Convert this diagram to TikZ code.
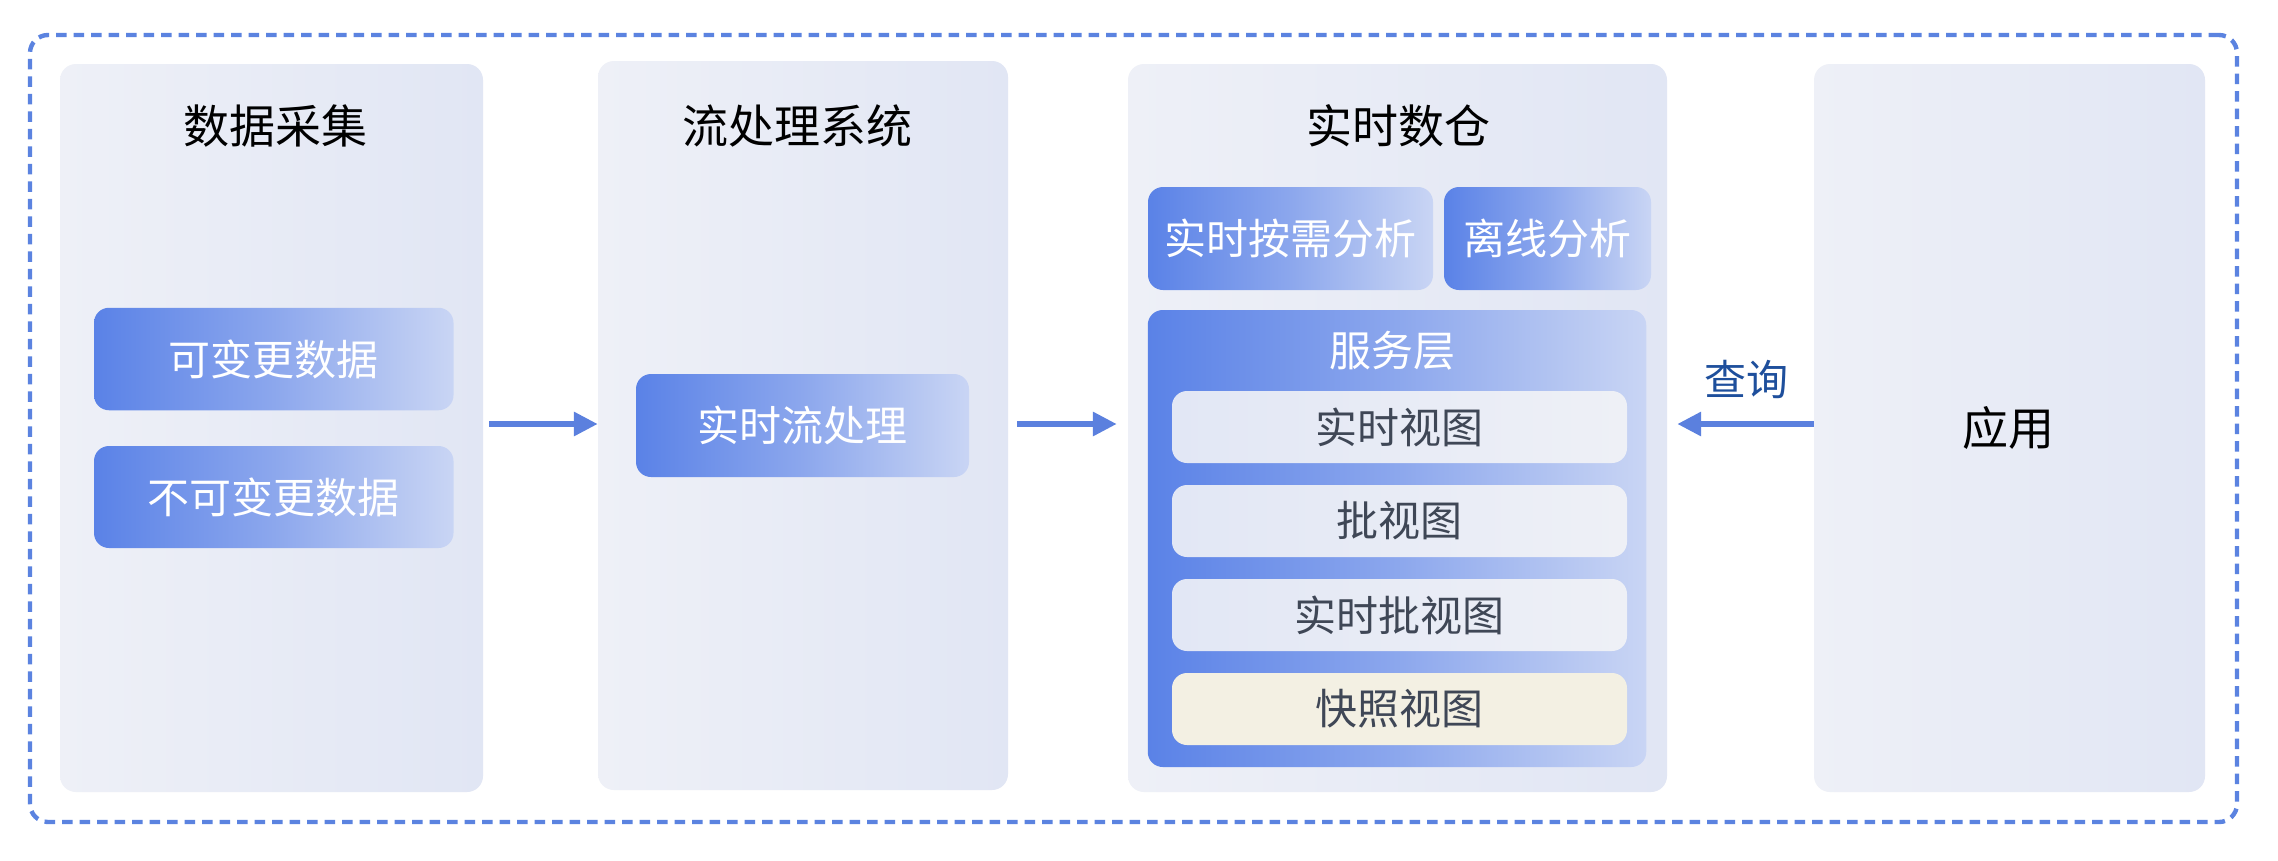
\documentclass[tikz,border=0pt]{standalone}
\usepackage{fontspec}
\setmainfont{Noto Sans CJK SC}
\usetikzlibrary{arrows.meta}
\definecolor{dashc}{HTML}{5B83E0}
\definecolor{arrc}{HTML}{5B80DE}
\definecolor{colL}{HTML}{EEF0F7}
\definecolor{colR}{HTML}{E1E6F4}
\definecolor{blueL}{HTML}{5A82E7}
\definecolor{blueM}{HTML}{8CA7ED}
\definecolor{blueR}{HTML}{C9D5F4}
\definecolor{viewL}{HTML}{E2E7F5}
\definecolor{viewR}{HTML}{EEF0F6}
\definecolor{viewT}{HTML}{3F4756}
\definecolor{snapC}{HTML}{F3F0E3}
\definecolor{qc}{HTML}{1E4F9C}
\tikzset{
  col/.style={rectangle, rounded corners=16pt, inner sep=0pt, left color=colL, right color=colR},
  bluebox/.style={rectangle, rounded corners=15pt, inner sep=0pt, left color=blueL, right color=blueR, middle color=blueM, text=white, font=\fontsize{42pt}{48pt}\selectfont},
  viewbox/.style={rectangle, rounded corners=15pt, inner sep=0pt, left color=viewL, right color=viewR, text=viewT, font=\fontsize{42pt}{48pt}\selectfont, minimum width=455pt, minimum height=72pt},
  ttl/.style={font=\fontsize{46pt}{52pt}\selectfont, text=black, inner sep=0pt},
  arr/.style={draw=arrc, line width=6.5pt, -{Triangle[length=24pt,width=23pt]}},
  outer/.style={rectangle, draw=dashc, line width=4.4pt, dash pattern=on 10.5pt off 7pt, rounded corners=18pt, inner sep=0pt}
}
\begin{document}
\begin{tikzpicture}[x=1pt,y=-1pt]
\useasboundingbox (0,0) rectangle (2278,860);
\fill[white] (0,0) rectangle (2278,860);
\node[outer, minimum width=2207pt, minimum height=787pt] (frame) at (1133.5,428.5) {};
% columns
\node[col, minimum width=423pt, minimum height=728pt] (c1) at (271.5,428) {};
\node[col, minimum width=410pt, minimum height=729pt] (c2) at (803,425.5) {};
\node[col, minimum width=539pt, minimum height=728pt] (c3) at (1397.5,428) {};
\node[col, minimum width=391pt, minimum height=728pt] (c4) at (2009.5,428) {};
% titles
\node[ttl] (t1) at (275,126) {数据采集};
\node[ttl] (t2) at (797,126) {流处理系统};
\node[ttl] (t3) at (1398.5,126) {实时数仓};
\node[ttl] (t4) at (2008,428) {应用};
% blue boxes
\node[bluebox, minimum width=359.5pt, minimum height=102.5pt] (b1) at (273.75,359) {可变更数据};
\node[bluebox, minimum width=359.5pt, minimum height=102pt] (b2) at (273.75,497) {不可变更数据};
\node[bluebox, minimum width=333pt, minimum height=103pt] (b3) at (802.5,425.5) {实时流处理};
\node[bluebox, minimum width=285pt, minimum height=103pt] (b4) at (1290.5,238.5) {实时按需分析};
\node[bluebox, minimum width=207pt, minimum height=103pt] (b5) at (1547.5,238.5) {离线分析};
\node[bluebox, minimum width=498.5pt, minimum height=457pt] (svc) at (1397,538.5) {};
\node[text=white, font=\fontsize{42pt}{48pt}\selectfont, inner sep=0pt] (svct) at (1392,351) {服务层};
% views
\node[viewbox] (v1) at (1399.5,427) {实时视图};
\node[viewbox] (v2) at (1399.5,521) {批视图};
\node[viewbox] (v3) at (1399.5,615) {实时批视图};
\node[viewbox, left color=snapC, right color=snapC] (v4) at (1399.5,709) {快照视图};
% arrows
\coordinate (ay) at (0,424);
\draw[arr, shorten <=6pt] (c1.east |- ay) -- (c2.west |- ay);
\draw[arr, shorten <=9pt, shorten >=11pt] (c2.east |- ay) -- (c3.west |- ay);
\draw[arr, shorten >=10pt] (c4.west |- ay) -- (c3.east |- ay);
\node[text=qc, font=\fontsize{42pt}{48pt}\selectfont, inner sep=0pt] (q) at (1746,379) {查询};
\end{tikzpicture}
\end{document}
